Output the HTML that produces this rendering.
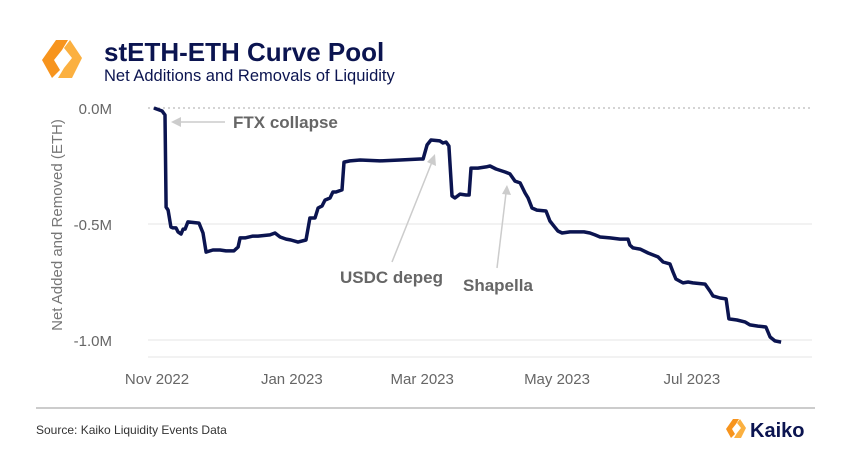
<!DOCTYPE html>
<html><head><meta charset="utf-8"><style>
body{margin:0;background:#fff;font-family:"Liberation Sans",sans-serif}
svg text{font-family:"Liberation Sans",sans-serif}
</style></head><body>
<svg id="c" width="850" height="464" viewBox="0 0 850 464">
<g>
<path d="M56 40 L68 40 L62 50 L54 60 L60 70 L52 78 L42 60 Z" fill="#f7941d"/>
<path d="M70 40 L82 58 L72 78 L58 78 L64 68 L72 58 L64 48 Z" fill="#fbb040"/>
</g>
<text x="104" y="61" font-size="26" font-weight="bold" fill="#0b1450">stETH-ETH Curve Pool</text>
<text x="104" y="81" font-size="16.5" fill="#0b1450">Net Additions and Removals of Liquidity</text>
<g id="grid"></g><g id="yticks"></g><g id="xticks"></g>
<text transform="translate(62,225) rotate(-90)" text-anchor="middle" font-size="15" fill="#777">Net Added and Removed (ETH)</text>
<g fill="#666" font-weight="bold" font-size="17">
<line x1="225" y1="122" x2="178" y2="122" stroke="#ccc" stroke-width="1.5"/>
<path d="M171 122 L181 117 L181 127 Z" fill="#ccc"/>
<text x="233" y="128">FTX collapse</text>
<line x1="392" y1="262" x2="432" y2="162" stroke="#ccc" stroke-width="1.5"/>
<path d="M435 154 L436 166 L427 162 Z" fill="#ccc"/>
<text x="340" y="283">USDC depeg</text>
<line x1="497" y1="268" x2="506" y2="193" stroke="#ccc" stroke-width="1.5"/>
<path d="M507 185 L511 195 L502 194 Z" fill="#ccc"/>
<text x="463" y="291">Shapella</text>
</g>
<path id="line" fill="none" stroke="#0b1450" stroke-width="3.5" stroke-linejoin="round"/>
<line x1="36" y1="408" x2="815" y2="408" stroke="#999" stroke-width="1"/>
<text x="36" y="434" font-size="12" fill="#333">Source: Kaiko Liquidity Events Data</text>
<g>
<path d="M733 419 L739 419 L736 424 L732 429 L735 434 L731 438 L726 429 Z" fill="#f7941d"/>
<path d="M740 419 L746 428 L741 438 L734 438 L737 433 L741 428 L737 423 Z" fill="#fbb040"/>
<text x="750" y="437" font-size="20" font-weight="bold" fill="#0b1450">Kaiko</text>
</g>
</svg>
<script>
const dayOffsets=[-1.4,2.3,3.6,4.1,5,6.3,7.2,8.6,9.5,10.9,11.8,12.7,14,19,20.8,22.2,25.3,28.5,31.2,34.8,36.7,37.6,39.8,43.4,45.7,51.1,53.4,55.7,58.4,60.6,63.8,67.4,69.2,71.5,72.9,74.7,76,78.3,79.6,81,83.7,84.6,87.3,91.9,100.9,110,119,120.4,122.2,124,128,129.4,130.8,132.1,133.5,134.8,137.1,139.8,141.2,142.1,145.2,148.9,150.7,153.4,157.5,159.7,162,164.3,166.5,167.9,169.7,171.9,176,177.8,179.6,181.4,183.3,186.9,193.2,195.9,198.2,200.5,205,209.5,213.1,214,215.4,218.6,222.2,226.7,229,232.1,233.5,234.8,238,240.3,242.5,248,250.2,251.6,254.8,257.5,258.8,262.4,266,268.3,271.9,275.5,277.4,279.6,282.4];
const netValues=[0,-0.013,-0.03,-0.427,-0.44,-0.513,-0.517,-0.517,-0.534,-0.543,-0.522,-0.522,-0.491,-0.496,-0.539,-0.621,-0.612,-0.612,-0.616,-0.616,-0.599,-0.56,-0.56,-0.552,-0.552,-0.547,-0.539,-0.556,-0.565,-0.569,-0.578,-0.569,-0.474,-0.474,-0.431,-0.422,-0.397,-0.388,-0.362,-0.362,-0.353,-0.233,-0.228,-0.224,-0.228,-0.224,-0.22,-0.22,-0.159,-0.138,-0.142,-0.151,-0.147,-0.164,-0.379,-0.388,-0.371,-0.375,-0.375,-0.259,-0.259,-0.254,-0.25,-0.263,-0.276,-0.284,-0.315,-0.323,-0.366,-0.388,-0.431,-0.44,-0.444,-0.487,-0.509,-0.53,-0.539,-0.534,-0.534,-0.539,-0.547,-0.556,-0.56,-0.565,-0.565,-0.591,-0.603,-0.608,-0.625,-0.642,-0.664,-0.672,-0.707,-0.737,-0.754,-0.75,-0.754,-0.759,-0.789,-0.81,-0.819,-0.823,-0.909,-0.914,-0.922,-0.935,-0.94,-0.944,-0.987,-1.004,-1.009,-1.017];
const yTickValues=[0,-0.5,-1.0];
const yTickLabels=["0.0M","-0.5M","-1.0M"];
const xTickDays=[0,61,120,181,242];
const xTickLabels=["Nov 2022","Jan 2023","Mar 2023","May 2023","Jul 2023"];
const NS="http://www.w3.org/2000/svg";
const xS=d=>157+d*2.21, yS=v=>108-v*232;
function mk(t,a,p){const e=document.createElementNS(NS,t);for(const k in a)e.setAttribute(k,a[k]);p.appendChild(e);return e;}
const grid=document.getElementById('grid'),yt=document.getElementById('yticks'),xt=document.getElementById('xticks');
yTickValues.forEach((v,i)=>{
 const l=mk('line',{x1:148,x2:812,y1:yS(v),y2:yS(v),stroke:v===0?'#aaa':'#e6e6e6','stroke-width':1,'stroke-dasharray':v===0?'2,3':'none'},grid);
 
 
 const t=mk('text',{x:112,y:yS(v)+6,'text-anchor':'end','font-size':15,fill:'#666'},yt);
 t.textContent=yTickLabels[i];
 
 
});
const ax=mk('line',{x1:148,x2:812,y1:357,y2:357,stroke:'#e6e6e6','stroke-width':1},grid);


xTickDays.forEach((d,i)=>{
 const t=mk('text',{x:xS(d),y:384,'text-anchor':'middle','font-size':15,fill:'#666'},xt);
 t.textContent=xTickLabels[i];
 
 
});
document.getElementById('line').setAttribute('d',dayOffsets.map((d,i)=>(i?'L':'M')+xS(d).toFixed(1)+' '+yS(netValues[i]).toFixed(1)).join(' '));
</script>
</body></html>
